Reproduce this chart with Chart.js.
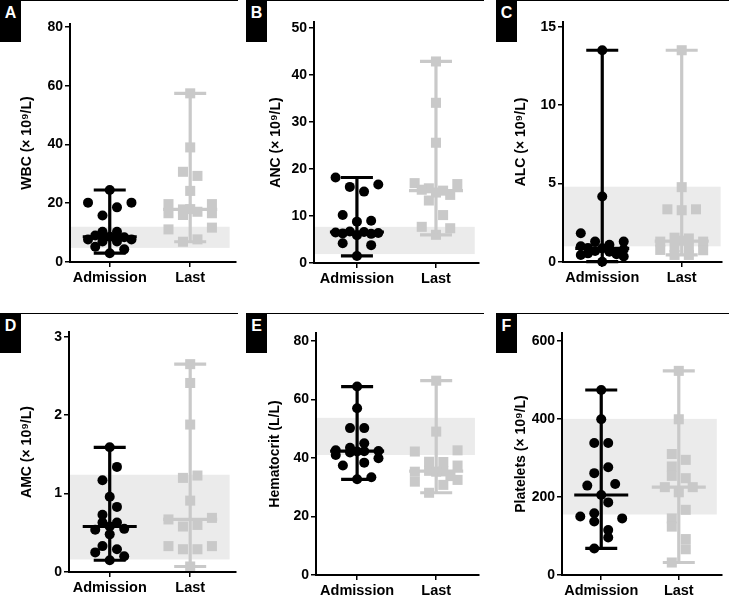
<!DOCTYPE html>
<html><head><meta charset="utf-8">
<script src="https://cdn.jsdelivr.net/npm/chart.js@4.4.0/dist/chart.umd.min.js"></script>
<style>
html,body{margin:0;padding:0;background:#fff;}
#wrap{position:relative;width:729px;height:599px;overflow:hidden;background:#fff;}
canvas{position:absolute;}
.tag{position:absolute;width:21px;background:#000;color:#fff;font:bold 16px "Liberation Sans",Arial,sans-serif;text-align:center;line-height:18px;padding-top:4px;box-sizing:border-box;}
.rule{position:absolute;height:1px;background:#000;}
</style></head><body><div id="wrap"></div>
<script>
// ---------- DATA ----------
const categories = ["Admission", "Last"];

const wbcAdmission       = [24.5, 20.2, 20.2, 18.6, 15.8, 10.3, 10.3, 9.0, 8.6, 8.4, 7.7, 7.7, 7.0, 7.0, 5.2, 4.3, 3.0];
const wbcAdmissionJitter = [0, -3, 3, 1, -1, -1, 1, -2, 0, 2, -3, 3, -1, 1, -2, 2, 0];
const wbcLast            = [57.4, 39.0, 30.7, 29.3, 24.2, 19.7, 19.7, 18.0, 17.9, 17.1, 16.6, 16.6, 16.0, 11.7, 11.1, 7.7, 6.9];
const wbcLastJitter      = [0, 0, -1, 1, 0, -3, 3, 0, -1, 1, -3, 3, -1, 3, -3, 1, -1];
const wbcNormal = [4.8, 12.0];
const wbcTicks  = [0, 20, 40, 60, 80];

const ancAdmission       = [18.2, 16.7, 16.2, 15.2, 10.2, 9.0, 8.8, 6.7, 6.6, 6.5, 6.4, 6.3, 6.2, 5.9, 4.2, 3.8, 1.5];
const ancAdmissionJitter = [-3, 3, -1, 1, -2, 2, 0, -1, 1, -3, 3, -2, 2, 0, -2, 2, 0];
const ancLast            = [42.9, 34.1, 25.6, 17.0, 16.8, 15.9, 15.6, 15.4, 15.0, 14.5, 13.3, 10.2, 7.7, 7.4, 6.0];
const ancLastJitter      = [0, 0, 0, -3, 3, -1, -2, 1, 0, 2, -1, 1, -2, 2, 0];
const ancNormal = [1.9, 7.7];
const ancTicks  = [0, 10, 20, 30, 40, 50];

const alcAdmission       = [13.5, 4.17, 1.83, 1.3, 1.3, 1.1, 1.0, 0.9, 0.87, 0.8, 0.7, 0.65, 0.55, 0.5, 0.45, 0.35, 0.02];
const alcAdmissionJitter = [0, 0, -3, -1, 3, 1, -3, -2, 0, 3, -1, 1, -2, 2, -3, 3, 0];
const alcLast            = [13.5, 4.77, 3.36, 3.36, 3.3, 1.55, 1.5, 1.36, 1.3, 1.3, 0.95, 0.9, 0.77, 0.75, 0.45, 0.45];
const alcLastJitter      = [0, 0, -2, 2, 0, -1, 1, 0, -3, 3, -1, 1, -3, 3, -1, 1];
const alcNormal = [1.0, 4.8];
const alcTicks  = [0, 5, 10, 15];

const amcAdmission       = [1.59, 1.34, 1.17, 0.96, 0.83, 0.73, 0.63, 0.63, 0.58, 0.55, 0.54, 0.48, 0.33, 0.29, 0.25, 0.20, 0.15];
const amcAdmissionJitter = [0, 1, -1, 0, 1, -1, -1, 1, 0, 2, -2, 0, -1, 1, -2, 2, 0];
const amcLast            = [2.65, 2.41, 1.88, 1.23, 1.20, 0.91, 0.69, 0.67, 0.60, 0.58, 0.33, 0.33, 0.29, 0.29, 0.07];
const amcLastJitter      = [0, 0, 0, 1, -1, 0, 3, -3, 1, -1, 3, -3, 1, -1, 0];
const amcNormal = [0.16, 1.24];
const amcTicks  = [0, 1, 2, 3];

const hctAdmission       = [64.4, 57.0, 50.2, 50.2, 45.0, 43.5, 42.6, 42.4, 42.3, 42.2, 41.9, 41.0, 39.9, 38.4, 37.4, 33.4, 32.7];
const hctAdmissionJitter = [0, 0, -1, 1, 1, -1, -3, 3, 1, 0, -1, -3, 3, 1, -2, 2, 0];
const hctLast            = [66.4, 49.0, 42.6, 42.2, 38.7, 38.6, 37.4, 35.3, 35.6, 35.4, 35.3, 33.8, 32.5, 31.9, 30.8, 28.1];
const hctLastJitter      = [0, 0, 3, -3, -1, 1, 3, -3, -1, 1, 0, 2, 3, -3, 1, -1];
const hctNormal = [41.0, 53.7];
const hctTicks  = [0, 20, 40, 60, 80];

const pltAdmission       = [474, 399, 338, 338, 276, 261, 233, 229, 205, 186, 158, 150, 145, 137, 115, 96, 68];
const pltAdmissionJitter = [0, 0, -1, 1, 1, -1, 2, -2, 0, 1, -1, -3, 3, -1, 1, 1, -1];
const pltLast            = [523, 399, 310, 295, 278, 254, 248, 225, 225, 212, 167, 145, 124, 92, 66, 32];
const pltLastJitter      = [0, 0, -1, 1, -1, -1, 1, -2, 2, 0, 1, -1, -1, 1, 1, -1];
const pltNormal = [155, 400];
const pltTicks  = [0, 200, 400, 600];

// ---------- STYLE / LAYOUT ----------
const BLACK = '#000000', GRAY = '#c9c9c9', BAND = '#ebebeb';
const FONT = '"Liberation Sans", Arial, Helvetica, sans-serif';
const JIT = 0.09;          // swarm step in category units
const CAP_HALF = 16, MED_HALF = 27, WHISKER_W = 3.2;

const panels = [
  {letter:'A', title:'WBC (× 10⁹/L)', adm:wbcAdmission, admJ:wbcAdmissionJitter, last:wbcLast, lastJ:wbcLastJitter, normal:wbcNormal, ticks:wbcTicks, yMax:81,
   box:{left:0,top:0,w:243,h:300}, axisW:70, padTop:24, axisH:38, padRight:6, xMin:-0.494, xMax:1.568, titlePad:19, tag:{left:0,top:0,h:42}, rule:{left:0,right:238,top:0}},
  {letter:'B', title:'ANC (× 10⁹/L)', adm:ancAdmission, admJ:ancAdmissionJitter, last:ancLast, lastJ:ancLastJitter, normal:ancNormal, ticks:ancTicks, yMax:51.3,
   box:{left:243,top:0,w:243,h:300}, axisW:71, padTop:22, axisH:37, padRight:3, xMin:-0.543, xMax:1.543, titlePad:25, tag:{left:246,top:0,h:42}, rule:{left:246,right:484,top:0}},
  {letter:'C', title:'ALC (× 10⁹/L)', adm:alcAdmission, admJ:alcAdmissionJitter, last:alcLast, lastJ:alcLastJitter, normal:alcNormal, ticks:alcTicks, yMax:15.3,
   box:{left:486,top:0,w:243,h:300}, axisW:77, padTop:22, axisH:38, padRight:4, xMin:-0.494, xMax:1.506, titlePad:27, tag:{left:496,top:0,h:42}, rule:{left:496,right:729,top:0}},
  {letter:'D', title:'AMC (× 10⁹/L)', adm:amcAdmission, admJ:amcAdmissionJitter, last:amcLast, lastJ:amcLastJitter, normal:amcNormal, ticks:amcTicks, yMax:3.06,
   box:{left:0,top:300,w:243,h:299}, axisW:69, padTop:32, axisH:27, padRight:6, xMin:-0.506, xMax:1.568, titlePad:19, tag:{left:0,top:313,h:40}, rule:{left:0,right:238,top:313}},
  {letter:'E', title:'Hematocrit (L/L)', adm:hctAdmission, admJ:hctAdmissionJitter, last:hctLast, lastJ:hctLastJitter, normal:hctNormal, ticks:hctTicks, yMax:82.7,
   box:{left:243,top:300,w:243,h:299}, axisW:73, padTop:33, axisH:24, padRight:3, xMin:-0.52, xMax:1.54, titlePad:24, tag:{left:246,top:313,h:40}, rule:{left:246,right:484,top:313}},
  {letter:'F', title:'Platelets (× 10⁹/L)', adm:pltAdmission, admJ:pltAdmissionJitter, last:pltLast, lastJ:pltLastJitter, normal:pltNormal, ticks:pltTicks, yMax:620,
   box:{left:486,top:300,w:243,h:299}, axisW:76, padTop:33, axisH:24, padRight:1, xMin:-0.506, xMax:1.556, titlePad:27, tag:{left:496,top:313,h:40}, rule:{left:496,right:729,top:313}}
];

function median(arr){const s=[...arr].sort((a,b)=>a-b);const n=s.length;return n%2?s[(n-1)/2]:(s[n/2-1]+s[n/2])/2;}

const summaryPlugin = {
  id:'summary',
  beforeDatasetsDraw(chart){
    const o = chart.options.plugins.summary; if(!o) return;
    const {ctx, chartArea, scales:{x,y}} = chart;
    const yTop = y.getPixelForValue(o.normal[1]), yBot = y.getPixelForValue(o.normal[0]);
    const xR = x.getPixelForValue(o.bandEnd);
    ctx.save(); ctx.fillStyle = BAND;
    ctx.fillRect(chartArea.left, yTop, xR - chartArea.left, yBot - yTop);
    ctx.restore();
  },
  afterDatasetsDraw(chart){
    const o = chart.options.plugins.summary; if(!o) return;
    const {ctx, scales:{x,y}} = chart;
    o.groups.forEach((g,i)=>{
      const cx = x.getPixelForValue(i);
      const yMin = y.getPixelForValue(Math.min(...g.values));
      const yMaxP = y.getPixelForValue(Math.max(...g.values));
      const yMed = y.getPixelForValue(median(g.values));
      ctx.save();
      ctx.strokeStyle = g.color; ctx.lineWidth = WHISKER_W; ctx.lineCap='butt';
      ctx.beginPath();
      ctx.moveTo(cx, yMin); ctx.lineTo(cx, yMaxP);
      ctx.moveTo(cx-CAP_HALF, yMin); ctx.lineTo(cx+CAP_HALF, yMin);
      ctx.moveTo(cx-CAP_HALF, yMaxP); ctx.lineTo(cx+CAP_HALF, yMaxP);
      ctx.moveTo(cx-MED_HALF, yMed); ctx.lineTo(cx+MED_HALF, yMed);
      ctx.stroke();
      ctx.restore();
    });
  }
};

const wrap = document.getElementById('wrap');
panels.forEach(p=>{
  const cv = document.createElement('canvas');
  cv.width = p.box.w; cv.height = p.box.h;
  cv.style.left = p.box.left+'px'; cv.style.top = p.box.top+'px';
  cv.style.width = p.box.w+'px'; cv.style.height = p.box.h+'px';
  wrap.appendChild(cv);

  const tag = document.createElement('div');
  tag.className='tag'; tag.textContent=p.letter;
  tag.style.left=p.tag.left+'px'; tag.style.top=p.tag.top+'px'; tag.style.height=p.tag.h+'px';
  wrap.appendChild(tag);
  const rule = document.createElement('div');
  rule.className='rule'; rule.style.left=p.rule.left+'px'; rule.style.top=p.rule.top+'px'; rule.style.width=(p.rule.right-p.rule.left)+'px';
  wrap.appendChild(rule);

  const admPts = p.adm.map((v,i)=>({x:0 + p.admJ[i]*JIT, y:v}));
  const lastPts = p.last.map((v,i)=>({x:1 + p.lastJ[i]*JIT, y:v}));

  new Chart(cv, {
    type:'scatter',
    data:{datasets:[
      {label:categories[0], data:admPts, pointStyle:'circle', pointRadius:5, pointHoverRadius:5, backgroundColor:BLACK, borderWidth:0, clip:false},
      {label:categories[1], data:lastPts, pointStyle:'rect', pointRadius:7.1, pointHoverRadius:7.1, backgroundColor:GRAY, borderWidth:0, clip:false}
    ]},
    options:{
      responsive:false, animation:false, devicePixelRatio:1,
      layout:{padding:{top:p.padTop, right:p.padRight, left:0, bottom:0}},
      plugins:{legend:{display:false}, tooltip:{enabled:false},
        summary:{normal:p.normal, bandEnd:1.49, groups:[{values:p.adm,color:BLACK},{values:p.last,color:GRAY}]}},
      scales:{
        x:{type:'linear', min:p.xMin, max:p.xMax,
          afterBuildTicks:s=>{s.ticks=[{value:0},{value:1}];},
          afterFit:s=>{s.height=p.axisH;},
          ticks:{autoSkip:false, maxRotation:0, padding:2, color:BLACK, font:{family:FONT,size:14.5,weight:'bold'}, callback:v=>categories[v]},
          grid:{display:true, drawOnChartArea:false, drawTicks:true, tickLength:5, color:BLACK, lineWidth:1.5},
          border:{display:true, color:BLACK, width:2, z:1}},
        y:{type:'linear', min:0, max:p.yMax,
          afterBuildTicks:s=>{s.ticks=p.ticks.map(v=>({value:v}));},
          afterFit:s=>{s.width=p.axisW;},
          ticks:{autoSkip:false, padding:2, color:BLACK, font:{family:FONT,size:14,weight:'bold'}},
          grid:{display:true, drawOnChartArea:false, drawTicks:true, tickLength:5, color:BLACK, lineWidth:1.5},
          border:{display:true, color:BLACK, width:2, z:1},
          title:{display:true, text:p.title, color:BLACK, font:{family:FONT,size:14,weight:'bold'}, padding:{top:p.titlePad,bottom:0}}}
      }
    },
    plugins:[summaryPlugin]
  });
});
</script></body></html>
